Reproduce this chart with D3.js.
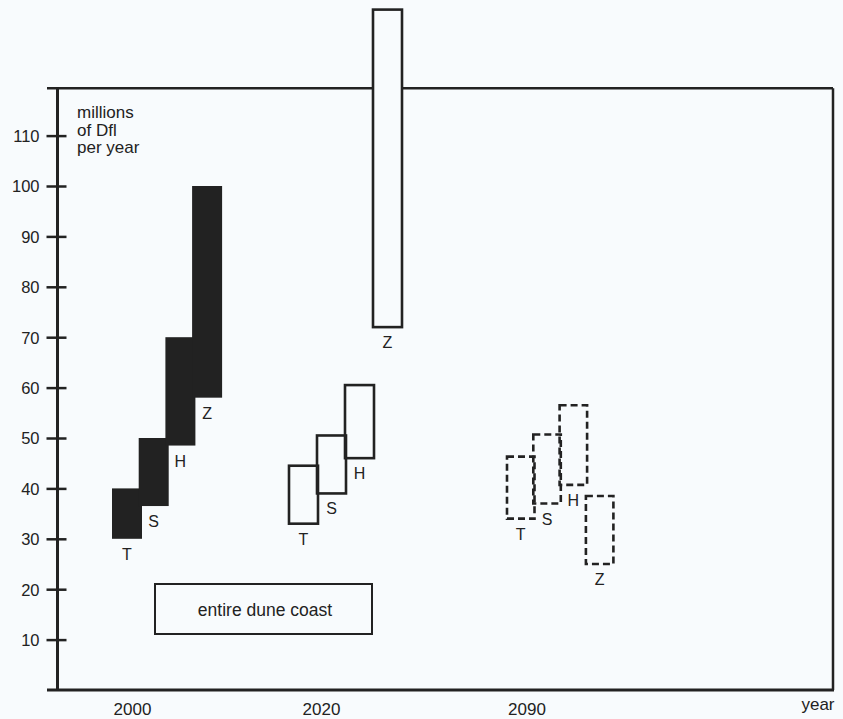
<!DOCTYPE html>
<html><head><meta charset="utf-8">
<script src="https://cdn.jsdelivr.net/npm/d3@7"></script>
<style>
html,body{margin:0;padding:0;background:#f8fbfd;}
svg{display:block;font-family:"Liberation Sans",Arial,Helvetica,sans-serif;}
</style></head>
<body><svg id="c" width="843" height="719"></svg>
<script>
// ---- data ----
const groups = ["2000", "2020", "2090"];
const measures = ["T", "S", "H", "Z"];
const low2000  = [30, 36.5, 48.5, 58];
const high2000 = [40, 50, 70, 100];
const low2020  = [33, 39, 46, 72];
const high2020 = [44.5, 50.5, 60.5, 135];
const low2090  = [34, 37, 40.7, 25];
const high2090 = [46.3, 50.7, 56.5, 38.5];
const yTicks = [10, 20, 30, 40, 50, 60, 70, 80, 90, 100, 110];
const xLabels = ["2000", "2020", "2090", "year"];
const yTitle = ["millions", "of Dfl", "per year"];
const legendLabel = "entire dune coast";

// ---- layout ----
const bg = "#f8fbfd", ink = "#222";
const svg = d3.select("#c");
const y = d3.scaleLinear().domain([0, 120]).range([690, 85.2]);
const frame = {left: 57.5, right: 833, top: y(119.4), bottom: 690};
const groupLayout = {
  "2000": {x0: 112, step: 26.7, w: 30, style: "dark"},
  "2020": {x0: 289, step: 28, w: 29, style: "open"},
  "2090": {x0: 507, step: 26.3, w: 27.5, style: "dash"}
};
const labelX = d3.scaleOrdinal().domain(xLabels).range([132.5, 321.5, 527, 818]);
const lows = {"2000": low2000, "2020": low2020, "2090": low2090};
const highs = {"2000": high2000, "2020": high2020, "2090": high2090};

// frame
svg.append("line").attr("x1", 47).attr("x2", frame.right).attr("y1", frame.top).attr("y2", frame.top)
  .attr("stroke", ink).attr("stroke-width", 2.5);
svg.append("line").attr("x1", 47).attr("x2", frame.right + 1).attr("y1", frame.bottom).attr("y2", frame.bottom)
  .attr("stroke", ink).attr("stroke-width", 3);
svg.append("line").attr("x1", frame.right).attr("x2", frame.right).attr("y1", frame.top).attr("y2", frame.bottom)
  .attr("stroke", ink).attr("stroke-width", 2.5);

// y axis
const yAxis = d3.axisLeft(y).tickValues(yTicks).tickSize(0).tickPadding(0);
const ya = svg.append("g").attr("transform", `translate(${frame.left},0)`).call(yAxis);
ya.select(".domain").remove();
ya.selectAll(".tick text").remove();
ya.selectAll(".tick").append("line").attr("x1", -11).attr("x2", 9)
  .attr("stroke", ink).attr("stroke-width", 2.5);
ya.selectAll(".tick").append("text").text(d => d).attr("x", -18).attr("dy", "0.36em")
  .attr("text-anchor", "end").attr("fill", ink).attr("font-size", 16.5)
  .attr("font-family", "'Liberation Sans',Arial,sans-serif");
svg.append("line").attr("x1", frame.left).attr("x2", frame.left).attr("y1", frame.top - 1).attr("y2", frame.bottom + 1)
  .attr("stroke", ink).attr("stroke-width", 3);

// y title
svg.append("text").attr("x", 77).attr("y", 118).attr("fill", ink).attr("font-size", 17)
  .selectAll("tspan").data(yTitle).join("tspan")
  .attr("x", 77).attr("dy", (d, i) => i === 0 ? 0 : 17.5).text(d => d);

// x labels
svg.selectAll("text.xl").data(xLabels).join("text").attr("class", "xl")
  .attr("x", d => labelX(d)).attr("y", d => d === "year" ? 710 : 715)
  .attr("text-anchor", "middle").attr("fill", ink).attr("font-size", 17).text(d => d);

// bars
groups.forEach(g => {
  const L = groupLayout[g];
  const xs = d3.scaleBand().domain(measures).range([L.x0, L.x0 + L.step * measures.length]).padding(0);
  const data = measures.map((m, i) => ({m, lo: lows[g][i], hi: highs[g][i]}));
  const gg = svg.append("g");
  const r = gg.selectAll("rect").data(data).join("rect")
    .attr("x", d => xs(d.m)).attr("width", L.w)
    .attr("y", d => y(d.hi)).attr("height", d => y(d.lo) - y(d.hi));
  if (L.style === "dark") {
    r.attr("fill", ink).attr("stroke", "none");
  } else if (L.style === "open") {
    r.attr("fill", "none").attr("stroke", ink).attr("stroke-width", 2.6);
    r.filter(d => d.hi > 119).attr("fill", bg);
  } else {
    r.attr("fill", "none").attr("stroke", ink).attr("stroke-width", 2.6).attr("stroke-dasharray", "7,4");
  }
  gg.selectAll("text").data(data).join("text")
    .attr("x", d => xs(d.m) + L.w / 2).attr("y", d => y(d.lo) + 21)
    .attr("text-anchor", "middle").attr("fill", ink).attr("font-size", 16).text(d => d.m);
});

// legend box
svg.append("rect").attr("x", 155).attr("y", 584).attr("width", 217).attr("height", 50)
  .attr("fill", "none").attr("stroke", ink).attr("stroke-width", 2);
svg.append("text").attr("x", 265).attr("y", 616).attr("text-anchor", "middle")
  .attr("fill", ink).attr("font-size", 17.5).text(legendLabel);
</script></body></html>
